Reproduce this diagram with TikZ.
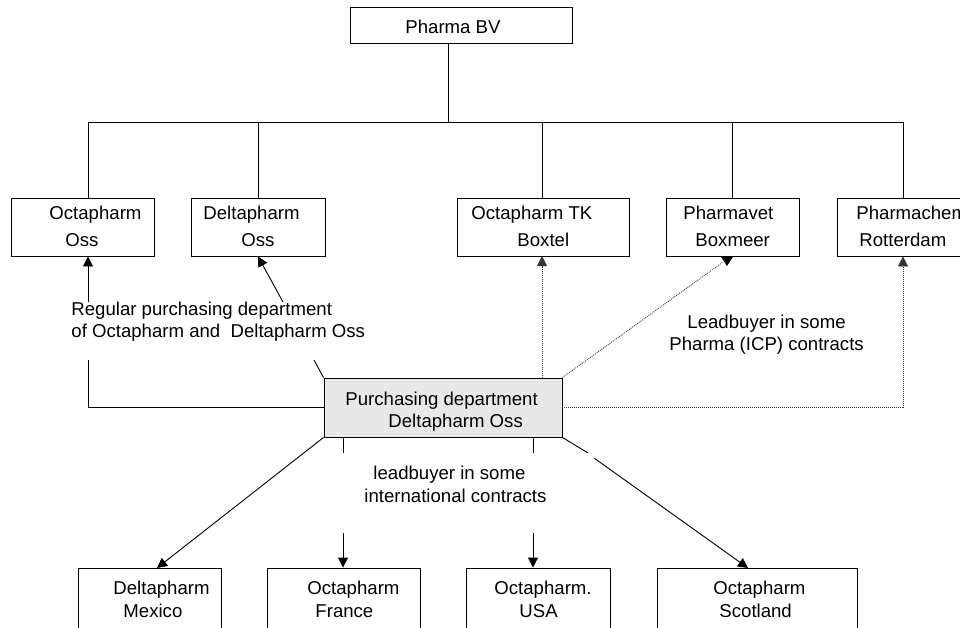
\documentclass[tikz,border=0pt]{standalone}
\usepackage{fontspec}
\setmainfont{Liberation Sans}
\usetikzlibrary{arrows.meta}
\begin{document}
\begin{tikzpicture}[x=1pt,y=-1pt,
  font=\fontsize{18.6}{22}\selectfont,
  line width=0.9pt,
  box/.style={draw, rectangle, inner sep=0pt, minimum height=58pt},
  lbl/.style={anchor=base west, inner sep=0pt},
  tip/.style={-{Triangle[length=10pt,width=10pt]}},
  dots/.style={dash pattern=on 1pt off 1pt, line width=0.8pt, draw=black!80},
]
\clip (0,0) rectangle (960,627);

% top of the tree
\node[box, minimum width=222pt, minimum height=36pt] (bv) at (461,25) {};
\node[lbl] (bvt) at (405,33) {Pharma BV};

% second row
\node[box, minimum width=143pt] (oo) at (82.5,227) {};
\node[box, minimum width=134pt] (do) at (258,227) {};
\node[box, minimum width=172pt] (tk) at (543,227) {};
\node[box, minimum width=133pt] (pv) at (732.5,227) {};
\node[box, minimum width=132pt] (pc) at (903,227) {};

\node[lbl] (oo1) at (49,219) {Octapharm};
\node[lbl] (oo2) at (65,246) {Oss};
\node[lbl] (do1) at (203,219) {Deltapharm};
\node[lbl] (do2) at (241,246) {Oss};
\node[lbl] (tk1) at (471,219) {Octapharm TK};
\node[lbl] (tk2) at (517,246) {Boxtel};
\node[lbl] (pv1) at (683,219) {Pharmavet};
\node[lbl] (pv2) at (695,246) {Boxmeer};
\node[lbl] (pc1) at (856,219) {Pharmachem};
\node[lbl] (pc2) at (859,246) {Rotterdam};

% purchasing department
\node[box, fill=black!9, minimum width=238pt, minimum height=59pt] (pd) at (443,407.5) {};
\node[lbl] (pd1) at (345,405) {Purchasing department};
\node[lbl] (pd2) at (388,427) {Deltapharm Oss};

% bottom row
\node[box, minimum width=143pt, minimum height=60pt] (mx) at (149.5,598) {};
\node[box, minimum width=153pt, minimum height=60pt] (fr) at (343.5,598) {};
\node[box, minimum width=144pt, minimum height=60pt] (us) at (538,598) {};
\node[box, minimum width=200pt, minimum height=60pt] (sc) at (757,598) {};

\node[lbl] (mx1) at (113,594) {Deltapharm};
\node[lbl] (mx2) at (123,617) {Mexico};
\node[lbl] (fr1) at (307,594) {Octapharm};
\node[lbl] (fr2) at (315,617) {France};
\node[lbl] (us1) at (494,594) {Octapharm.};
\node[lbl] (us2) at (519,617) {USA};
\node[lbl] (sc1) at (713,594) {Octapharm};
\node[lbl] (sc2) at (719,617) {Scotland};

% labels
\node[lbl] (reg1) at (71,315) {Regular purchasing department};
\node[lbl] (reg2) at (71,337) {of Octapharm and\ \ Deltapharm Oss};
\node[lbl] (lb1) at (687,328) {Leadbuyer in some};
\node[lbl] (lb2) at (669,350) {Pharma (ICP) contracts};
\node[lbl] (int1) at (373,479) {leadbuyer in some};
\node[lbl] (int2) at (364,502) {international contracts};

% tree connectors
\coordinate (stem) at (448,122);
\coordinate (busL) at (88,122);
\coordinate (busR) at (903,122);
\draw (stem |- bv.south) -- (stem);
\draw (busL) -- (busR);
\draw (busL) -- (busL |- oo.north);
\draw (stem -| do.north) -- (do.north);
\draw (stem -| 542,0) -- (542,198);
\draw (stem -| pv.north) -- (pv.north);
\draw (busR) -- (pc.north);

% regular purchasing links
\coordinate (ooA) at (88,302);
\coordinate (ooB) at (88,360);
\draw[tip] (ooA) -- (ooA |- oo.south);
\draw (ooB) |- (pd.west);
\coordinate (doA) at (283,302);
\coordinate (doB) at (314,360);
\draw[tip] (doA) -- (do.south);
\draw (doB) -- (pd.north west);

% lead buyer links (dotted)
\draw[dots, tip] (542,378) -- (542,256);
\coordinate (pvT) at (723,262);
\draw[dots] (pd.north east) -- (pvT);
\fill (720.5,256) -- (733.5,256) -- (727,266) -- cycle;
\draw[dots, tip] (pd.east) -| (pc.south);

% international links
\draw[tip] (pd.south west) -- (157,568);
\coordinate (frA) at (343,453);
\coordinate (frB) at (343,533);
\draw (frA |- pd.south) -- (frA);
\draw[tip] (frB) -- (frB |- fr.north);
\coordinate (usA) at (533,453);
\coordinate (usB) at (533,533);
\draw (usA |- pd.south) -- (usA);
\draw[tip] (usB) -- (usB |- us.north);
\coordinate (scA) at (588,453);
\coordinate (scB) at (594,458);
\draw (pd.south east) -- (scA);
\draw[tip] (scB) -- (748,568);
\end{tikzpicture}
\end{document}
